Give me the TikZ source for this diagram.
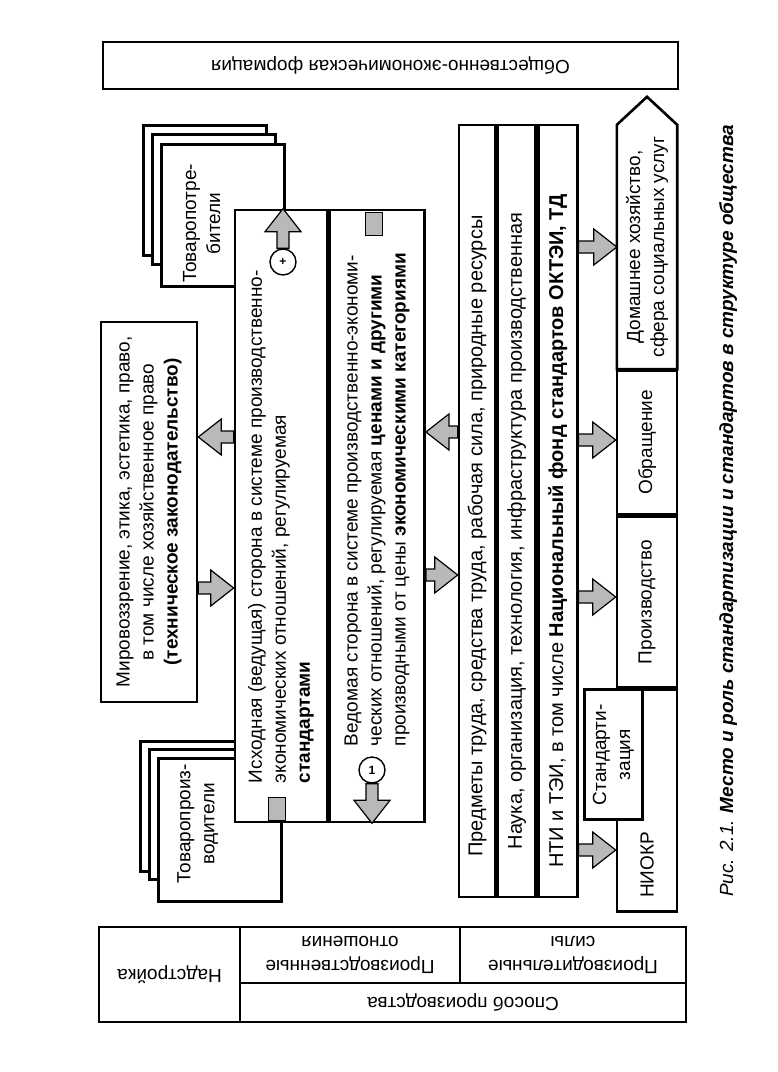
\documentclass[tikz,border=0pt]{standalone}
\usepackage{fontspec}
\setmainfont{Liberation Sans}
\usepackage{tikz}
\usetikzlibrary{calc, positioning}
\newcommand{\diafont}{\fontsize{19}{24}\selectfont}
\newcommand{\widefont}{\fontsize{20}{24}\selectfont}
\tikzstyle{frame} = [draw, line width=2.6pt, fill=white, inner sep=0pt]
\tikzstyle{sheet} = [frame, anchor=north west, minimum width=123pt, minimum height=130pt]
\tikzstyle{vtext} = [rotate=90, inner sep=0pt, font=\diafont, align=center]
\tikzstyle{flipbox} = [frame, rotate=180, font=\diafont, align=center]
\tikzstyle{sign} = [circle, draw, line width=1.4pt, fill=white, minimum size=26pt, inner sep=0pt, font=\bfseries\fontsize{12}{12}\selectfont]
\tikzstyle{patch} = [draw, line width=1pt, fill=gray!55, minimum width=17pt, minimum height=23pt, inner sep=0pt]
\tikzstyle{fatarrow} = [draw, line width=1.2pt, fill=gray!55, line join=miter, to path={
    ($(\tikztostart)!6pt!90:(\tikztotarget)$)
    -- ($(\tikztotarget)!23pt!(\tikztostart)!6pt!90:(\tikztotarget)$)
    -- ($(\tikztotarget)!23pt!(\tikztostart)!18pt!90:(\tikztotarget)$)
    -- (\tikztotarget)
    -- ($(\tikztotarget)!23pt!(\tikztostart)!18pt!-90:(\tikztotarget)$)
    -- ($(\tikztotarget)!23pt!(\tikztostart)!6pt!-90:(\tikztotarget)$)
    -- ($(\tikztostart)!6pt!-90:(\tikztotarget)$) -- cycle}]

\begin{document}
\begin{tikzpicture}[x=1pt, y=-1pt]
    \fill[white] (0,0) rectangle (778,1072);
    \useasboundingbox (0,0) rectangle (778,1072);

    \node (Soc) [flipbox, minimum width=575pt, minimum height=47pt] at (390.5,65.5) {Общественно-экономическая формация};

    \coordinate (ConsCorner) at (160,143);
    \node (Cons3) [sheet] at ($(ConsCorner)+(-18,-19)$) {};
    \node (Cons2) [sheet] at ($(ConsCorner)+(-9,-10)$) {};
    \node (Cons) [frame, anchor=north west, minimum width=123pt, minimum height=142pt] at (ConsCorner) {};
    \node (ConsText) [vtext] at ($(Cons)+(-21,8)$) {Товаропотре-\\бители};

    \coordinate (ProdCorner) at (157,757);
    \node (Prod3) [sheet] at ($(ProdCorner)+(-18,-17)$) {};
    \node (Prod2) [sheet] at ($(ProdCorner)+(-9,-9)$) {};
    \node (Prod) [frame, anchor=north west, minimum width=123pt, minimum height=143pt] at (ProdCorner) {};
    \node (ProdText) [vtext] at ($(Prod)+(-22,-6)$) {Товаропроиз-\\водители};

    \node (Mir) [frame, minimum width=96pt, minimum height=380pt] at (149,512) {};
    \node (MirText) [vtext] at (Mir) {Мировоззрение, этика, эстетика, право,\\в том числе хозяйственное право\\\textbf{(техническое законодательство)}};

    \node (Lead) [frame, minimum width=92pt, minimum height=612pt] at (281,516) {};
    \node (Follow) [frame, minimum width=95pt, minimum height=612pt, right=0pt of Lead] {};
    \node (LeadText) [vtext, anchor=west, align=left] at ($(Lead.south)+(0,-40)$) {Исходная (ведущая) сторона в системе производственно-\\экономических отношений, регулируемая\\\textbf{стандартами}};
    \node (FollowText) [vtext, anchor=west, align=left] at ($(Follow.south)+(0,-77)$) {Ведомая сторона в системе производственно-экономи-\\ческих отношений, регулируемая \textbf{ценами и другими}\\производными от цены \textbf{экономическими категориями}};
    \node (PatchA) [patch] at (277,809) {};
    \node (PatchB) [patch] at (374,224) {};
    \node (Plus) [sign] at (283,262) {+};
    \draw[fatarrow] (Plus.north) to (Plus.north |- Lead.north);
    \node (One) [sign] at (372,770) {1};
    \draw[fatarrow] (One.south) to (One.south |- Follow.south);

    \node (Pf1) [frame, minimum width=36pt, minimum height=772pt] at (477,511) {};
    \node (Pf2) [frame, minimum width=38pt, minimum height=772pt, right=0pt of Pf1] {};
    \node (Pf3) [frame, minimum width=39pt, minimum height=772pt, right=0pt of Pf2] {};
    \node (Pf1Text) [vtext, font=\widefont] at ($(Pf1)+(0,25)$) {Предметы труда, средства труда, рабочая сила, природные ресурсы};
    \node (Pf2Text) [vtext, font=\widefont] at ($(Pf2)+(0,20)$) {Наука, организация, технология, инфраструктура производственная};
    \node (Pf3Text) [vtext, font=\widefont] at ($(Pf3)+(0,20)$) {НТИ и ТЭИ, в том числе \textbf{Национальный фонд стандартов ОКТЭИ, ТД}};

    \node (Home) [minimum width=60pt, minimum height=244pt, inner sep=0pt] at (647,247) {};
    \draw[frame] (Home.south west) -- (Home.north west) -- ($(Home.north)+(0,-28)$) -- (Home.north east) -- (Home.south east) -- cycle;
    \node (HomeText) [vtext] at (Home) {Домашнее хозяйство,\\сфера социальных услуг};
    \node (Obr) [frame, minimum width=60pt, minimum height=144pt, below=0pt of Home] {};
    \node (Proizv) [frame, minimum width=60pt, minimum height=170pt, below=0pt of Obr] {};
    \node (Niokr) [frame, minimum width=60pt, minimum height=222pt, below=0pt of Proizv] {};
    \node (Std) [frame, minimum width=58pt, minimum height=130pt, anchor=north east] at ($(Proizv.south west)+(28,0)$) {};
    \node (ObrText) [vtext] at (Obr) {Обращение};
    \node (ProizvText) [vtext] at (Proizv) {Производство};
    \node (NiokrText) [vtext] at ($(Niokr.south)+(0,-48)$) {НИОКР};
    \node (StdText) [vtext] at (Std) {Стандарти-\\зация};

    \draw[fatarrow] (Mir.east |- 0,588) to (Lead.west |- 0,588);
    \draw[fatarrow] (Lead.west |- 0,437) to (Mir.east |- 0,437);
    \draw[fatarrow] (Pf1.west |- 0,432) to (Follow.east |- 0,432);
    \draw[fatarrow] (Follow.east |- 0,575) to (Pf1.west |- 0,575);
    \foreach \target/\y in {Home/247, Obr/440, Proizv/597, Niokr/850}
        \draw[fatarrow] (Pf3.east |- 0,\y) to (\target.west |- 0,\y);

    \node (Caption) [vtext, anchor=west, font=\diafont\itshape] at (728,897) {Рис. 2.1. \textbf{Место и роль стандартизации и стандартов в структуре общества}};

    \node (Nad) [flipbox, minimum width=141pt, minimum height=95pt] at (169.5,974.5) {Надстройка};
    \node (Rel) [flipbox, minimum width=220pt, minimum height=56pt] at (350,955) {Производственные\\отношения};
    \node (Forces) [flipbox, minimum width=226pt, minimum height=56pt] at (573,955) {Производительные\\силы};
    \node (Mode) [flipbox, minimum width=446pt, minimum height=39pt] at (463,1002.5) {Способ производства};
\end{tikzpicture}
\end{document}
